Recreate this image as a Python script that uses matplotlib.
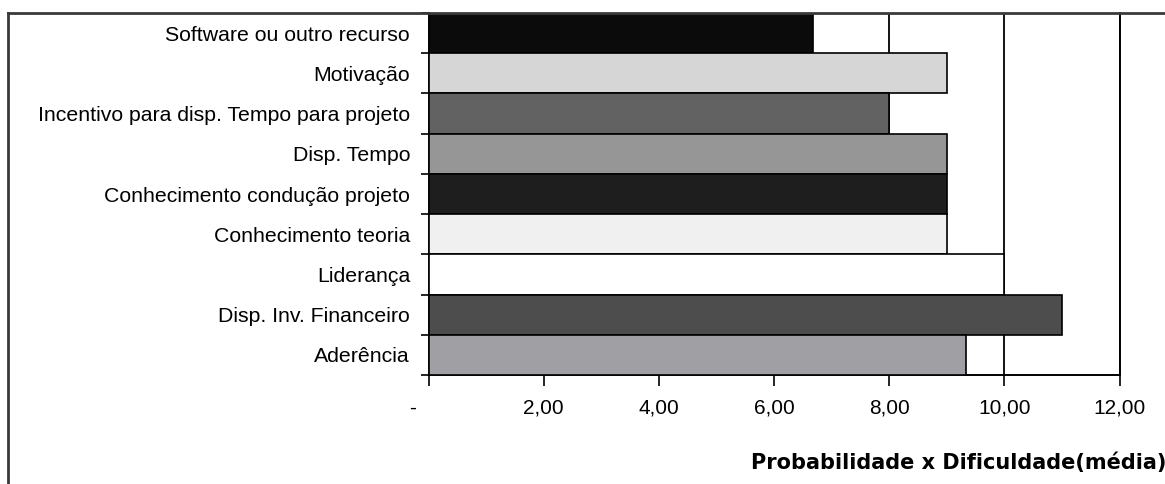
import matplotlib
matplotlib.use("Agg")
import matplotlib.pyplot as plt
import matplotlib.transforms as mtransforms
from matplotlib.lines import Line2D
import numpy as np

categories = ["Software ou outro recurso", "Motivação",
              "Incentivo para disp. Tempo para projeto", "Disp. Tempo",
              "Conhecimento condução projeto", "Conhecimento teoria",
              "Liderança", "Disp. Inv. Financeiro", "Aderência"]
values = [6.67, 9.0, 8.0, 9.0, 9.0, 9.0, 10.0, 11.0, 9.33]
bar_colors = ["#0b0b0b", "#d6d6d6", "#626262", "#969696", "#1e1e1e",
              "#f0f0f0", "#ffffff", "#4d4d4d", "#a09fa4"]
xticks = [0, 2, 4, 6, 8, 10, 12]
xticklabels = ["-", "2,00", "4,00", "6,00", "8,00", "10,00", "12,00"]
xlabel = "Probabilidade x Dificuldade(média)"

plt.rcParams['font.family'] = ['Liberation Sans', 'DejaVu Sans']

W, H = 1165, 484
fig = plt.figure(figsize=(W / 100, H / 100), dpi=100)
L, R, T, B = 428.5, 1119.5, 13, 375
ax = fig.add_axes([L / W, 1 - B / H, (R - L) / W, (B - T) / H])

y = np.arange(len(categories))
ax.barh(y, values, height=1.0, color=bar_colors, edgecolor="black",
        linewidth=1.2, zorder=3)
ax.set_ylim(len(categories) - 0.5, -0.5)
ax.set_xlim(0, 12)

for xv in xticks[1:]:
    ax.axvline(xv, color="black", linewidth=1.3, zorder=1)

ax.set_yticks(y)
ax.set_yticklabels(categories, fontsize=15.3)
ax.set_yticks(np.arange(-0.5, len(categories) + 0.5, 1.0), minor=True)
ax.tick_params(axis="y", which="major", length=0, pad=13.3)
ax.tick_params(axis="y", which="minor", length=6, width=1.2, color="black",
               direction="out")

ax.set_xticks(xticks)
ax.set_xticklabels(xticklabels, fontsize=15)
ax.tick_params(axis="x", which="major", length=8, width=1.2, color="black",
               direction="out", pad=9)
off = mtransforms.ScaledTranslation(-16 / 100, 0, fig.dpi_scale_trans)
lab0 = ax.get_xticklabels()[0]
lab0.set_transform(lab0.get_transform() + off)

for s in ax.spines.values():
    s.set_color("black")
    s.set_linewidth(1.4)
ax.spines["top"].set_visible(False)

# outer chart frame (left and top edges visible)
fig.add_artist(Line2D([8 / W, 8 / W], [0, 1 - 13 / H], transform=fig.transFigure,
                      color="#3a3a3a", linewidth=2.0))
fig.add_artist(Line2D([8 / W, 1.0], [1 - 13 / H, 1 - 13 / H], transform=fig.transFigure,
                      color="#3a3a3a", linewidth=2.0))

fig.text(1166 / W, 1 - 463 / H, xlabel, ha="right", va="center",
         fontsize=15, fontweight="bold",
         family=["DejaVu Sans Condensed", "DejaVu Sans"])

fig.savefig("out.png", dpi=100)
